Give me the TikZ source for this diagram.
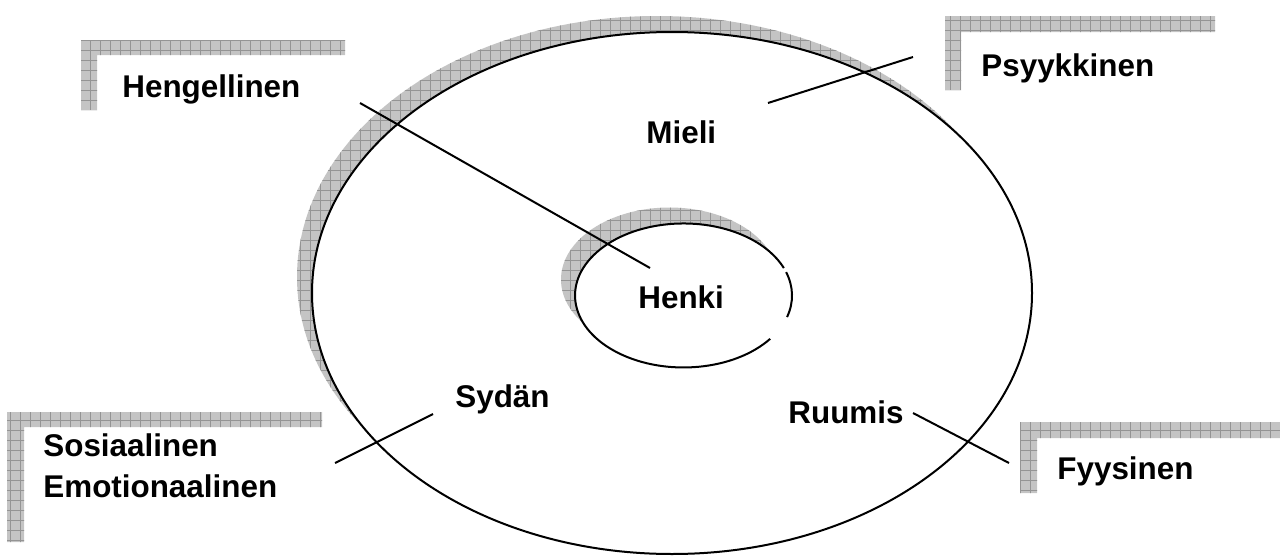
\documentclass[tikz,border=0pt]{standalone}
\usepackage{fontspec}
\setmainfont{Liberation Sans}
\newcommand{\hatchedshape}[1]{%
  \fill[hatchbg] #1;
  \begin{scope}
    \clip #1;
    \draw[hatchline] (0,0) grid[step=5pt] (1280,557);
  \end{scope}}
\tikzset{
  hatchbg/.style={fill=black!23},
  hatchline/.style={draw=black!42,line width=0.35pt},
  outline/.style={draw=black,line width=1pt},
  conn/.style={draw=black,line width=1pt},
  lbl/.style={anchor=base west,inner sep=0pt,font=\fontsize{15.7}{20.5}\selectfont\bfseries,align=left},
}
\begin{document}
\begin{tikzpicture}[x=0.5pt,y=-0.5pt]
\useasboundingbox (0,0) rectangle (1280,557);
% outer ellipse with shadow
\hatchedshape{(657,277) ellipse [x radius=360, y radius=261]}
\fill[white] (672,293) ellipse [x radius=360, y radius=261];
\draw[outline] (672,293) ellipse [x radius=360, y radius=261];
% inner ellipse with shadow
\hatchedshape{(669.5,279.5) ellipse [x radius=108.5, y radius=72]}
\fill[white] (683.5,295.5) ellipse [x radius=108.5, y radius=72];
\draw[outline] (770.2,338.8) arc[start angle=37, end angle=337.6, x radius=108.5, y radius=72];
\draw[outline] (786.1,272.1) arc[start angle=-19, end angle=17.4, x radius=108.5, y radius=72];
% label frames
\hatchedshape{(81,40) -- (345,40) -- (345,55) -- (97,55) -- (97,110) -- (81,110) -- cycle}
\hatchedshape{(945,16) -- (1215,16) -- (1215,32) -- (961,32) -- (961,90) -- (945,90) -- cycle}
\hatchedshape{(7,412) -- (322,412) -- (322,427) -- (24,427) -- (24,542) -- (7,542) -- cycle}
\hatchedshape{(1020,422) -- (1280,422) -- (1280,438) -- (1037,438) -- (1037,493) -- (1020,493) -- cycle}
% texts
\node[lbl] (heng) at (122,97) {Hengellinen};
\node[lbl] (psy) at (981,76) {Psyykkinen};
\node[lbl] (mieli) at (646,143) {Mieli};
\node[lbl] (henki) at (638,308) {Henki};
\node[lbl] (sydan) at (455,407) {Sydän};
\node[lbl] (ruumis) at (788,423) {Ruumis};
\node[lbl] (fyys) at (1057,479) {Fyysinen};
\node[lbl] (sos) at (43,497) {Sosiaalinen\\Emotionaalinen};
% connector ends
\coordinate (h1) at (360,103);
\coordinate (h2) at (650,268);
\coordinate (p1) at (768,103);
\coordinate (p2) at (913,57);
\coordinate (s1) at (335,463);
\coordinate (s2) at (433,414);
\coordinate (r1) at (913,413);
\coordinate (r2) at (1009,463);
\draw[conn] (h1) -- (h2);
\draw[conn] (p1) -- (p2);
\draw[conn] (s1) -- (s2);
\draw[conn] (r1) -- (r2);
\end{tikzpicture}
\end{document}
